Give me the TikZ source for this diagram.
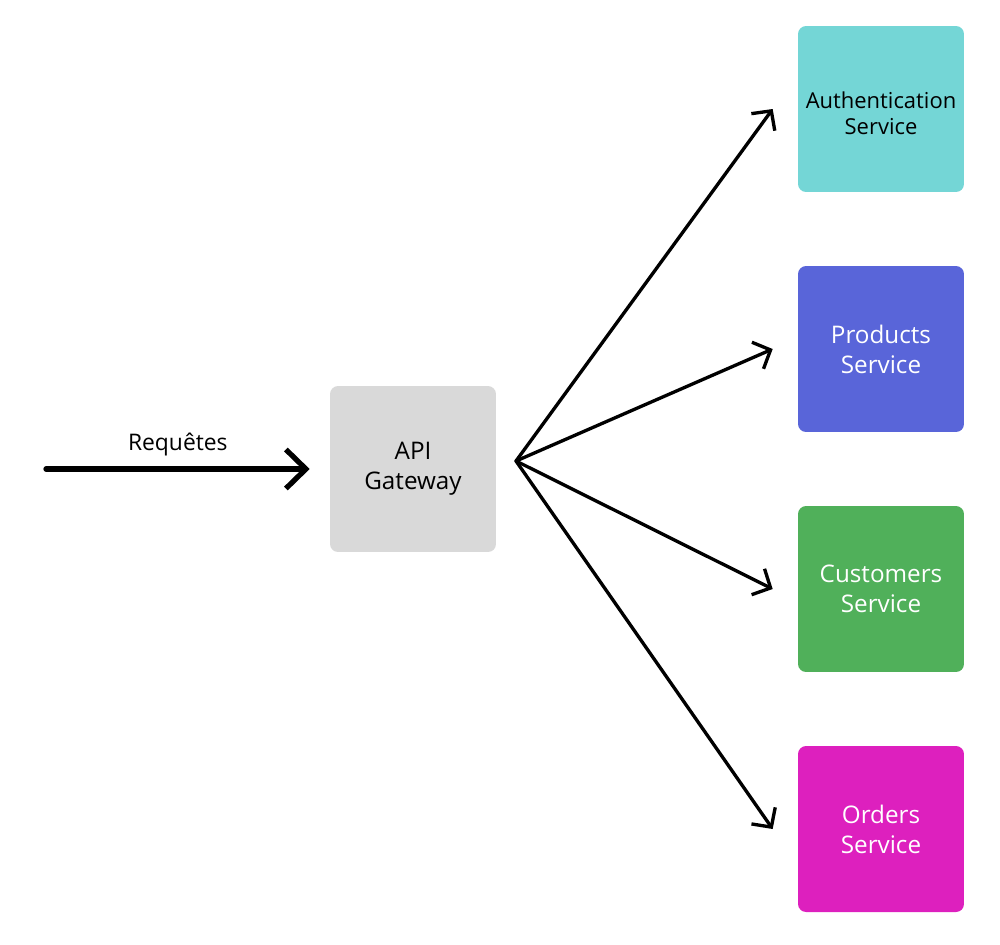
\documentclass[tikz,border=0pt]{standalone}
\usepackage{fontspec}
\setmainfont{Open Sans}
\usetikzlibrary{arrows.meta, positioning}

\definecolor{gatewaygray}{HTML}{D9D9D9}
\definecolor{authteal}{HTML}{74D6D6}
\definecolor{productsblue}{HTML}{5965D9}
\definecolor{customersgreen}{HTML}{50B05A}
\definecolor{ordersmagenta}{HTML}{DD20BE}

\tikzset{
    box/.style={minimum width=3.32cm, minimum height=3.32cm, rounded corners=0.16cm,
        inner sep=0pt, align=center, font=\fontsize{13.8}{17}\selectfont},
    flow/.style={line width=1.9pt, line cap=round, line join=round,
        -{Straight Barb[length=0.28cm, width=0.58cm]}},
    input/.style={line width=3pt, line cap=round, line join=round,
        -{Straight Barb[length=0.4cm, width=0.78cm]}}
}

\begin{document}
\begin{tikzpicture}[x=0.02cm, y=-0.02cm]
    \useasboundingbox (0,0) rectangle (1000,944);
    % Gateway et services
    \node[box, fill=gatewaygray] (gateway) at (413,469) {API\\Gateway};
    \node[box, fill=authteal] (auth) at (881,109) {};
    \node[align=center, inner sep=0pt, font=\fontsize{12.5}{14.8}\selectfont,
        below=1.32cm of auth.north] (authtext) {Authentication\\Service};
    \node[box, fill=productsblue, text=white] (products) at (881,349) {Products\\Service};
    \node[box, fill=customersgreen, text=white] (customers) at (881,589) {Customers\\Service};
    \node[box, fill=ordersmagenta, text=white] (orders) at (881,829) {Orders\\Service};
    % Entree des requetes
    \coordinate (client) at (46,469);
    \coordinate (hub) at (516,461);
    \draw[input] (client) -- node[above=2.5pt, font=\fontsize{13}{15}\selectfont] (reqlabel) {Requêtes}
        ([xshift=-0.4cm]gateway.west);
    % Routage vers les services
    \foreach \svc in {auth, products, customers, orders}
        \draw[flow] (hub) -- ([xshift=-0.5cm]\svc.west);
\end{tikzpicture}
\end{document}
